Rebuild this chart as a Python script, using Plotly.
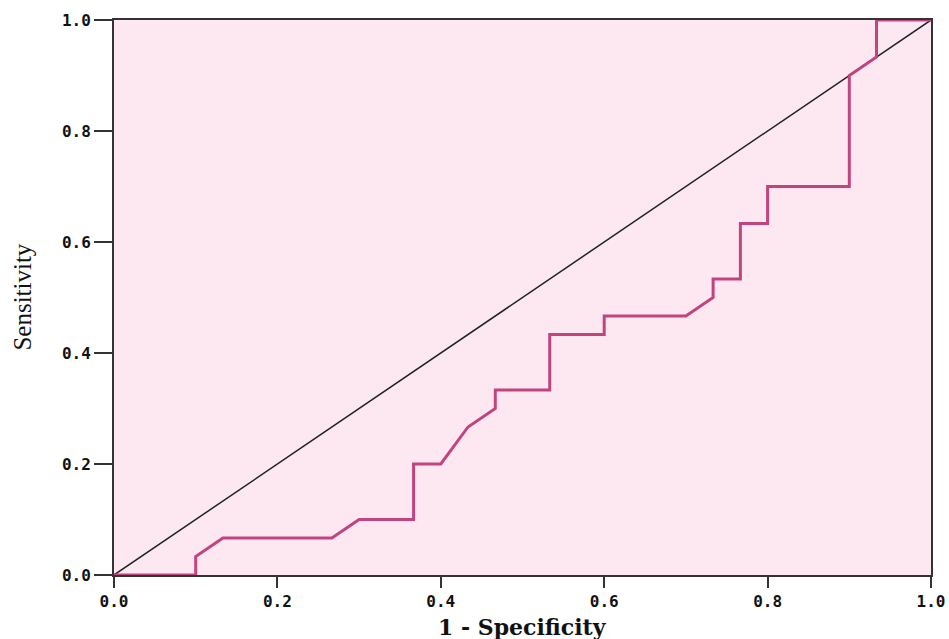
import plotly.graph_objects as go

# ROC curve points (1 - specificity, sensitivity)
fpr = [0.0, 0.1, 0.1, 0.1333, 0.2667, 0.3, 0.3667, 0.3667, 0.4, 0.4333, 0.4667, 0.4667,
       0.5333, 0.5333, 0.6, 0.6, 0.7, 0.7333, 0.7333, 0.7667, 0.7667, 0.8, 0.8, 0.9, 0.9,
       0.9333, 0.9333, 1.0]
tpr = [0.0, 0.0, 0.0333, 0.0667, 0.0667, 0.1, 0.1, 0.2, 0.2, 0.2667, 0.3, 0.3333,
       0.3333, 0.4333, 0.4333, 0.4667, 0.4667, 0.5, 0.5333, 0.5333, 0.6333, 0.6333, 0.7, 0.7, 0.9,
       0.9333, 1.0, 1.0]
ref_x = [0.0, 1.0]
ref_y = [0.0, 1.0]
tick_vals = [0.0, 0.2, 0.4, 0.6, 0.8, 1.0]
tick_text = ["0.0", "0.2", "0.4", "0.6", "0.8", "1.0"]
x_title = "1 - Specificity"
y_title = "Sensitivity"

fig = go.Figure()
fig.add_trace(go.Scatter(x=ref_x, y=ref_y, mode="lines",
                         line=dict(color="#222222", width=1.5), showlegend=False))
fig.add_trace(go.Scatter(x=fpr, y=tpr, mode="lines",
                         line=dict(color="#C2447F", width=3), showlegend=False))

tickfont = dict(family="DejaVu Sans Mono, Liberation Mono, monospace", size=16,
                color="#111111", weight="bold")
fig.update_layout(
    width=949, height=639,
    margin=dict(l=114, r=18, t=20, b=64),
    paper_bgcolor="white",
    plot_bgcolor="#FDE8F2",
    xaxis=dict(range=[0, 1], tickvals=tick_vals, ticktext=tick_text, showgrid=False,
               zeroline=False, ticks="outside", ticklen=11, tickwidth=2, tickcolor="#333333",
               showline=True, linecolor="#333333", linewidth=2, mirror=True,
               tickfont=tickfont, automargin=False),
    yaxis=dict(range=[0, 1], tickvals=tick_vals, ticktext=tick_text, showgrid=False,
               zeroline=False, ticks="outside", ticklen=18, tickwidth=2, tickcolor="#333333",
               showline=True, linecolor="#333333", linewidth=2, mirror=True,
               tickfont=tickfont, automargin=False),
    annotations=[
        dict(text="<b>" + x_title + "</b>", xref="paper", yref="paper", x=0.5, y=-0.093,
             yanchor="middle", xanchor="center", showarrow=False,
             font=dict(family="DejaVu Serif, Liberation Serif, serif", size=22, color="#111111")),
        dict(text=y_title, xref="paper", yref="paper", x=-0.1125, y=0.5, textangle=-90,
             xanchor="center", yanchor="middle", showarrow=False,
             font=dict(family="Liberation Serif, Times New Roman, serif", size=25, color="#111111")),
    ],
)
fig.write_html("out.html")
